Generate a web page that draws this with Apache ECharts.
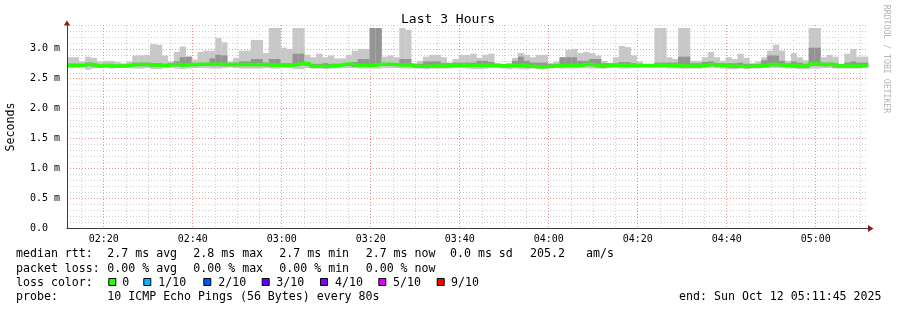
<!DOCTYPE html>
<html><head><meta charset="utf-8">
<script src="https://cdn.jsdelivr.net/npm/echarts@6/dist/echarts.min.js"></script>
<style>html,body{margin:0;padding:0;background:#fff}#c{width:897px;height:310px}</style>
</head><body><div id="c"></div>
<script>
// time axis in minutes after midnight: 02:11:45 .. 05:11:45, one RRD step = 80 s
const START_MIN = 131.75;
const END_MIN = 311.75;
const STEP_MIN = 80 / 60;

// ping smoke per step (ms): outer band lo..hi, inner band mlo..mhi, median
const hi = [2.86,2.86,2.79,2.87,2.85,2.79,2.80,2.80,2.78,2.76,
  2.79,2.89,2.89,2.90,3.08,3.07,2.89,2.79,2.95,3.04,
  2.87,2.82,2.95,2.97,2.97,3.18,3.11,2.79,2.85,2.97,
  2.97,3.15,3.15,2.93,3.35,3.35,3.02,3.00,3.35,3.35,
  2.90,2.86,2.92,2.86,2.89,2.84,2.84,2.90,2.97,3.00,
  3.00,3.35,3.35,2.87,2.89,2.86,3.35,3.32,2.76,2.80,
  2.87,2.90,2.90,2.86,2.77,2.83,2.90,2.90,2.92,2.85,
  2.90,2.92,2.76,2.74,2.76,2.85,2.93,2.90,2.86,2.90,
  2.90,2.76,2.79,2.86,2.98,3.00,2.93,2.95,2.93,2.89,
  2.80,2.76,2.86,3.05,3.03,2.89,2.79,2.74,2.74,3.35,
  3.35,2.86,2.83,3.35,3.35,2.80,2.80,2.86,2.95,2.86,
  2.80,2.86,2.83,2.92,2.85,2.76,2.79,2.86,2.97,3.07,
  2.97,2.80,2.93,2.86,2.81,3.35,3.35,2.86,2.90,2.87,
  2.75,2.92,3.00,2.87,2.87];
const mhi = [2.75,2.75,2.74,2.77,2.76,2.74,2.75,2.75,2.74,2.74,
  2.75,2.77,2.77,2.77,2.76,2.76,2.75,2.76,2.79,2.86,
  2.87,2.76,2.76,2.76,2.84,2.90,2.89,2.75,2.77,2.79,
  2.79,2.83,2.83,2.77,2.83,2.83,2.76,2.76,2.92,2.92,
  2.78,2.75,2.75,2.76,2.75,2.75,2.75,2.76,2.78,2.83,
  2.83,3.35,3.35,2.76,2.76,2.76,2.83,2.83,2.75,2.75,
  2.79,2.79,2.79,2.76,2.76,2.77,2.77,2.77,2.77,2.80,
  2.80,2.78,2.75,2.74,2.75,2.80,2.87,2.80,2.77,2.77,
  2.77,2.75,2.75,2.86,2.86,2.86,2.80,2.80,2.83,2.83,
  2.76,2.76,2.76,2.78,2.78,2.76,2.75,2.74,2.74,2.77,
  2.77,2.77,2.77,2.87,2.87,2.76,2.76,2.78,2.79,2.76,
  2.76,2.76,2.76,2.77,2.75,2.75,2.75,2.81,2.89,2.89,
  2.80,2.76,2.79,2.77,2.75,3.02,3.02,2.77,2.77,2.76,
  2.74,2.77,2.79,2.77,2.77];
const median = [2.726,2.726,2.726,2.748,2.726,2.709,2.726,2.715,2.715,2.715,
  2.726,2.737,2.737,2.737,2.721,2.721,2.721,2.737,2.737,2.726,
  2.737,2.737,2.743,2.743,2.743,2.743,2.737,2.737,2.737,2.737,
  2.737,2.737,2.737,2.737,2.726,2.726,2.726,2.726,2.737,2.760,
  2.748,2.709,2.709,2.704,2.721,2.721,2.743,2.748,2.726,2.721,
  2.721,2.726,2.743,2.743,2.743,2.732,2.732,2.732,2.709,2.709,
  2.709,2.715,2.715,2.715,2.721,2.726,2.726,2.721,2.721,2.721,
  2.726,2.726,2.721,2.715,2.721,2.721,2.721,2.709,2.709,2.698,
  2.704,2.715,2.715,2.721,2.721,2.721,2.726,2.748,2.732,2.715,
  2.715,2.726,2.726,2.726,2.726,2.721,2.721,2.721,2.721,2.726,
  2.726,2.721,2.721,2.715,2.715,2.715,2.715,2.726,2.743,2.726,
  2.726,2.709,2.709,2.709,2.704,2.715,2.715,2.721,2.743,2.737,
  2.726,2.726,2.715,2.715,2.704,2.748,2.748,2.732,2.748,2.715,
  2.715,2.715,2.715,2.715,2.726];
const mlo = [2.70,2.70,2.70,2.72,2.70,2.69,2.70,2.69,2.69,2.69,
  2.70,2.71,2.71,2.71,2.70,2.70,2.70,2.71,2.71,2.70,
  2.71,2.71,2.72,2.72,2.71,2.71,2.71,2.71,2.71,2.71,
  2.71,2.71,2.71,2.71,2.70,2.70,2.70,2.70,2.71,2.73,
  2.72,2.69,2.69,2.68,2.70,2.70,2.72,2.72,2.70,2.70,
  2.70,2.70,2.72,2.72,2.72,2.71,2.71,2.71,2.69,2.69,
  2.69,2.69,2.69,2.69,2.70,2.70,2.70,2.70,2.70,2.70,
  2.70,2.70,2.70,2.69,2.70,2.70,2.70,2.69,2.69,2.68,
  2.68,2.69,2.69,2.70,2.70,2.70,2.70,2.72,2.71,2.69,
  2.69,2.70,2.70,2.70,2.70,2.70,2.70,2.70,2.70,2.70,
  2.70,2.70,2.70,2.69,2.69,2.69,2.69,2.70,2.72,2.70,
  2.70,2.69,2.69,2.69,2.68,2.69,2.69,2.70,2.72,2.71,
  2.70,2.70,2.69,2.69,2.68,2.72,2.72,2.71,2.72,2.69,
  2.69,2.69,2.69,2.69,2.70];
const lo = [2.68,2.68,2.69,2.65,2.67,2.68,2.68,2.67,2.68,2.68,
  2.68,2.67,2.67,2.68,2.66,2.66,2.68,2.68,2.67,2.66,
  2.67,2.68,2.68,2.68,2.67,2.67,2.68,2.69,2.68,2.67,
  2.67,2.67,2.67,2.68,2.67,2.67,2.68,2.68,2.66,2.66,
  2.68,2.67,2.67,2.66,2.67,2.67,2.68,2.68,2.68,2.67,
  2.67,2.67,2.67,2.68,2.68,2.68,2.67,2.67,2.67,2.67,
  2.66,2.67,2.67,2.67,2.67,2.68,2.68,2.67,2.66,2.66,
  2.67,2.68,2.68,2.67,2.66,2.67,2.66,2.66,2.67,2.66,
  2.66,2.67,2.68,2.67,2.67,2.67,2.68,2.68,2.67,2.67,
  2.67,2.68,2.68,2.67,2.67,2.68,2.68,2.68,2.68,2.68,
  2.68,2.67,2.67,2.67,2.67,2.67,2.67,2.68,2.68,2.68,
  2.67,2.66,2.66,2.67,2.66,2.67,2.67,2.68,2.68,2.68,
  2.68,2.67,2.67,2.66,2.66,2.67,2.67,2.68,2.68,2.67,
  2.67,2.67,2.67,2.67,2.68];

const lossLabels = ['0','1/10','2/10','3/10','4/10','5/10','9/10'];
const lossColors = ['#26ff00','#00b8ff','#0059ff','#5e00ff','#7e00ff','#dd00ff','#ff0000'];
const rttStats = ['2.7 ms avg','2.8 ms max','2.7 ms min','2.7 ms now','0.0 ms sd','205.2','am/s'];
const lossStats = ['0.00 % avg','0.00 % max','0.00 % min','0.00 % now'];

const MONO = "'DejaVu Sans Mono', monospace";
const smoke = hi.map((h, i) => {
  const t0 = START_MIN + i * STEP_MIN;
  return [t0, t0 + STEP_MIN, lo[i], h, mlo[i], mhi[i]];
});
const medLine = median.map((m, i) => [START_MIN + i * STEP_MIN, m]);
medLine.push([END_MIN, median[median.length - 1]]);

function hhmm(v) {
  const m = Math.round(v);
  const h = Math.floor(m / 60), mm = m % 60;
  return (h < 10 ? '0' : '') + h + ':' + (mm < 10 ? '0' : '') + mm;
}

const chart = echarts.init(document.getElementById('c'), null, {renderer: 'canvas'});
const gridGray = '#cfcfcf';
const gridRed = '#ec9090';
const axisCol = '#3a3a3a';

const txt = (x, y, text, extra) => Object.assign({
  type: 'text', x: x, y: y, silent: true, z: 10,
  style: Object.assign({text: text, font: '11.6px ' + MONO, fill: '#000',
    align: 'left', verticalAlign: 'middle', textAlign: 'left', textVerticalAlign: 'middle'}, (extra && extra.style) || {})
}, extra ? {rotation: extra.rotation || 0} : {});

const graphics = [
  txt(448, 20, 'Last 3 Hours', {style: {font: '13px ' + MONO, align: 'center', textAlign: 'center'}}),
  txt(11, 127, 'Seconds', {rotation: Math.PI / 2, style: {font: '11.6px ' + MONO, align: 'center', textAlign: 'center'}}),
  txt(886, 59, 'RRDTOOL / TOBI OETIKER', {rotation: -Math.PI / 2, style: {font: '8.2px ' + MONO, fill: '#b4b4b4', align: 'center', textAlign: 'center'}}),
  txt(16, 254.3, 'median rtt:'),
  txt(16, 268.7, 'packet loss:'),
  txt(16, 282.5, 'loss color:'),
  txt(16, 297, 'probe:'),
  txt(107.3, 297, '10 ICMP Echo Pings (56 Bytes) every 80s'),
  txt(881.5, 297, 'end: Sun Oct 12 05:11:45 2025', {style: {align: 'right', textAlign: 'right'}}),
  {type: 'polygon', silent: true, z: 10, shape: {points: [[63.8, 25.5], [70.2, 25.5], [67, 20.5]]}, style: {fill: '#8b1a1a'}},
  {type: 'polygon', silent: true, z: 10, shape: {points: [[868, 225], [868, 232], [873.5, 228.5]]}, style: {fill: '#8b1a1a'}}
];
const rttX = [107.3, 193.3, 279.3, 365.7, 450, 530, 586];
rttStats.forEach((s, i) => graphics.push(txt(rttX[i], 254.3, s)));
const lossX = [107.3, 193.3, 279.3, 365.7];
lossStats.forEach((s, i) => graphics.push(txt(lossX[i], 268.7, s)));
const boxX = [108.3, 143.3, 203.3, 261.7, 320, 378.3, 436.7];
const labX = [122.3, 158.3, 218.3, 276.3, 335, 393, 451];
lossLabels.forEach((l, i) => {
  graphics.push({type: 'rect', silent: true, z: 10, shape: {x: boxX[i] + 0.5, y: 278.5, width: 7, height: 7},
    style: {fill: lossColors[i], stroke: '#000', lineWidth: 1}});
  graphics.push(txt(labX[i], 282.5, l));
});

chart.setOption({
  animation: false,
  backgroundColor: '#fff',
  grid: {left: 67, right: 29, top: 25, bottom: 82, containLabel: false},
  xAxis: [
    {type: 'value', position: 'bottom', min: START_MIN, max: END_MIN, splitNumber: 9, z: 1,
      axisLine: {show: false},
      axisTick: {show: false},
      axisLabel: {formatter: hhmm, showMinLabel: false, showMaxLabel: false, margin: 6,
        fontFamily: MONO, fontSize: 10, color: '#000'},
      splitLine: {show: true, showMinLine: false, showMaxLine: false,
        lineStyle: {color: gridRed, type: [1, 2], width: 1}}},
    {type: 'value', position: 'bottom', min: START_MIN, max: END_MIN, splitNumber: 36, z: 0,
      axisLine: {show: false}, axisTick: {show: false}, axisLabel: {show: false},
      splitLine: {show: true, showMinLine: false, showMaxLine: false,
        lineStyle: {color: gridGray, type: [1, 2], width: 1}}},
    {type: 'value', position: 'bottom', min: START_MIN, max: END_MIN, z: 5,
      axisLine: {show: true, onZero: false, lineStyle: {color: axisCol, width: 1}},
      axisTick: {show: false}, axisLabel: {show: false}, splitLine: {show: false}}
  ],
  yAxis: [
    {type: 'value', position: 'left', min: 0, max: 3.4, interval: 0.5, z: 1,
      axisLine: {show: false},
      axisTick: {show: false},
      axisLabel: {formatter: v => v === 0 ? '0.0  ' : v.toFixed(1) + ' m', showMaxLabel: false,
        margin: 7, padding: [5, 0, 0, 0], fontFamily: MONO, fontSize: 10, color: '#000'},
      splitLine: {show: true, showMinLine: false, showMaxLine: false,
        lineStyle: {color: gridRed, type: [1, 2], width: 1}}},
    {type: 'value', position: 'left', min: 0, max: 3.4, interval: 0.1, z: 0,
      axisLine: {show: false}, axisTick: {show: false}, axisLabel: {show: false},
      splitLine: {show: true, showMinLine: false,
        lineStyle: {color: gridGray, type: [1, 2], width: 1}}},
    {type: 'value', position: 'left', min: 0, max: 3.4, z: 5,
      axisLine: {show: true, onZero: false, lineStyle: {color: axisCol, width: 1}},
      axisTick: {show: false}, axisLabel: {show: false}, splitLine: {show: false}}
  ],
  series: [
    {type: 'custom', xAxisIndex: 0, yAxisIndex: 0, z: 2, silent: true,
      encode: {x: [0, 1], y: [2, 3, 4, 5]},
      data: smoke,
      renderItem: function (params, api) {
        const x0 = api.coord([api.value(0), 0])[0];
        const x1 = api.coord([api.value(1), 0])[0];
        const yLo = api.coord([api.value(0), api.value(2)])[1];
        const yHi = api.coord([api.value(0), api.value(3)])[1];
        const yMlo = api.coord([api.value(0), api.value(4)])[1];
        const yMhi = api.coord([api.value(0), api.value(5)])[1];
        return {type: 'group', children: [
          {type: 'rect', shape: {x: x0, y: yHi, width: x1 - x0 + 0.3, height: yLo - yHi}, style: {fill: '#c8c8c8'}},
          {type: 'rect', shape: {x: x0, y: yMhi, width: x1 - x0 + 0.3, height: yMlo - yMhi}, style: {fill: '#949494'}}
        ]};
      }},
    {type: 'line', xAxisIndex: 0, yAxisIndex: 0, z: 3, silent: true,
      data: medLine, step: 'end', symbol: 'none',
      lineStyle: {color: '#26ff00', width: 3.5}}
  ],
  graphic: graphics
});
</script>
</body></html>
